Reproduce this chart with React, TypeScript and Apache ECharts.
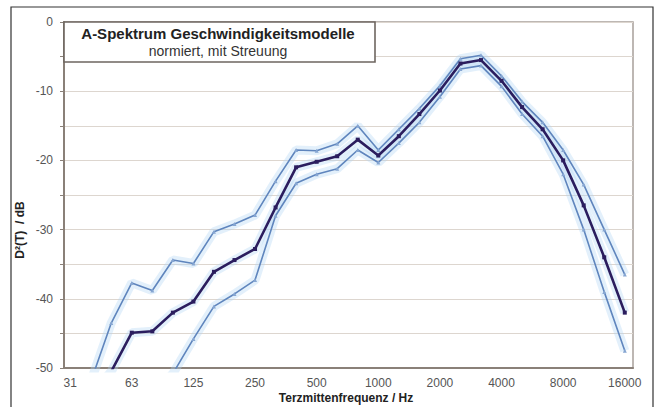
import React, { useEffect, useRef } from "react";
import * as echarts from "echarts";

const freqLabels = ["31", "40", "50", "63", "80", "100", "125", "160", "200", "250", "315", "400", "500", "630", "800", "1000", "1250", "1600", "2000", "2500", "3150", "4000", "5000", "6300", "8000", "10000", "12500", "16000"];
const octaveTicks = [0, 3, 6, 9, 12, 15, 18, 21, 24, 27];

const meanValues = [-58, -54, -50.5, -44.9, -44.7, -42, -40.4, -36.1, -34.4, -32.8, -26.8, -21, -20.2, -19.4, -17, -19.3, -16.5, -13.3, -9.9, -6, -5.5, -8.5, -12.3, -15.5, -20, -26.5, -34, -42];
const upperValues = [-58, -52, -43.5, -37.7, -38.8, -34.4, -34.9, -30.3, -29.2, -27.9, -23, -18.5, -18.6, -17.6, -15, -18.5, -15.5, -12.5, -9.2, -5.3, -4.8, -7.8, -11.5, -14.5, -18.5, -23.5, -30, -36.5];
const lowerValues = [-65, -62, -60, -57, -54, -50.8, -45.8, -41.1, -39.3, -37.3, -28, -23.3, -22, -21.2, -18.5, -20.3, -17.5, -14.5, -10.8, -6.8, -6.3, -9.3, -13.3, -16.5, -22, -30, -39, -47.5];

const yTicks = [0, -10, -20, -30, -40, -50];

const FONT = "Liberation Sans, Arial, sans-serif";

function pairs(vals: number[]) {
  return vals.map((v, i) => [i, v]);
}

export default function App() {
  const ref = useRef<HTMLDivElement>(null);
  useEffect(() => {
    if (!ref.current) return;
    const chart = echarts.init(ref.current, null, { renderer: "svg" });
    const glow = (vals: number[]) => ({
      type: "line",
      data: pairs(vals),
      symbol: "none",
      silent: true,
      z: 1,
      lineStyle: { width: 9, color: "rgba(175,212,244,0.35)" },
    });
    chart.setOption({
      animation: false,
      backgroundColor: "#ffffff",
      grid: { left: 64, top: 22, width: 569, height: 346, show: true, borderColor: "#a8a09a", borderWidth: 1.5, backgroundColor: "transparent" },
      xAxis: {
        type: "value",
        min: -0.3,
        max: 27.4,
        axisLine: { show: true, onZero: false, lineStyle: { color: "#8a8078", width: 2 } },
        axisTick: { show: false },
        splitLine: { show: false },
        axisLabel: {
          customValues: octaveTicks,
          formatter: (v: number) => freqLabels[Math.round(v)] ?? "",
          color: "#555",
          fontSize: 12,
          fontFamily: FONT,
          margin: 9,
        },
      },
      yAxis: {
        type: "value",
        min: -50,
        max: 0,
        interval: 5,
        axisLine: { show: true, onZero: false, lineStyle: { color: "#8a8078", width: 2 } },
        axisTick: { show: true, length: 4, lineStyle: { color: "#8a8078" } },
        splitLine: { show: true, lineStyle: { color: "#ddd6cf", width: 1 } },
        axisLabel: {
          formatter: (v: number) => (yTicks.includes(v) ? String(v) : ""),
          color: "#555",
          fontSize: 12,
          fontFamily: FONT,
          margin: 11,
        },
      },
      series: [
        glow(upperValues),
        glow(lowerValues),
        glow(meanValues),
        {
          type: "line",
          name: "oben",
          data: pairs(upperValues),
          z: 3,
          symbol: "triangle",
          symbolSize: 4,
          itemStyle: { color: "#86a6d2" },
          lineStyle: { width: 1.6, color: "#5f85bd" },
        },
        {
          type: "line",
          name: "unten",
          data: pairs(lowerValues),
          z: 3,
          symbol: "triangle",
          symbolSize: 4,
          itemStyle: { color: "#86a6d2" },
          lineStyle: { width: 1.6, color: "#5f85bd" },
        },
        {
          type: "line",
          name: "Mittel",
          data: pairs(meanValues),
          z: 4,
          symbol: "rect",
          symbolSize: 4,
          itemStyle: { color: "#2b1d5e" },
          lineStyle: { width: 2.6, color: "#2b1d5e" },
        },
      ],
      graphic: [
        {
          type: "rect",
          shape: { x: 11, y: 7, width: 642, height: 420 },
          style: { fill: "none", stroke: "#333", lineWidth: 1.2 },
          silent: true,
          z: 0,
        },
        {
          type: "rect",
          shape: { x: 64, y: 22, width: 311, height: 40 },
          style: { fill: "#ffffff", stroke: "#6e6660", lineWidth: 1.6 },
          z: 10,
        },
        {
          type: "text",
          x: 218,
          y: 33,
          style: { text: "A-Spektrum Geschwindigkeitsmodelle", fontSize: 15, fontWeight: "bold", fill: "#222", fontFamily: FONT, align: "center", verticalAlign: "middle" },
          z: 11,
        },
        {
          type: "text",
          x: 218,
          y: 51,
          style: { text: "normiert, mit Streuung", fontSize: 14, fill: "#333", fontFamily: FONT, align: "center", verticalAlign: "middle" },
          z: 11,
        },
        {
          type: "text",
          x: 346,
          y: 398,
          style: { text: "Terzmittenfrequenz / Hz", fontSize: 12, fontWeight: "bold", fill: "#222", fontFamily: FONT, align: "center", verticalAlign: "middle" },
          z: 11,
        },
        {
          type: "text",
          x: 20,
          y: 230,
          rotation: Math.PI / 2,
          style: { text: "D²(T)  / dB", fontSize: 12, fontWeight: "bold", fill: "#222", fontFamily: FONT, align: "center", verticalAlign: "middle" },
          z: 11,
        },
      ],
    });
    return () => chart.dispose();
  }, []);
  return <div ref={ref} style={{ position: "absolute", left: 0, top: 0, width: 658, height: 407 }} />;
}
